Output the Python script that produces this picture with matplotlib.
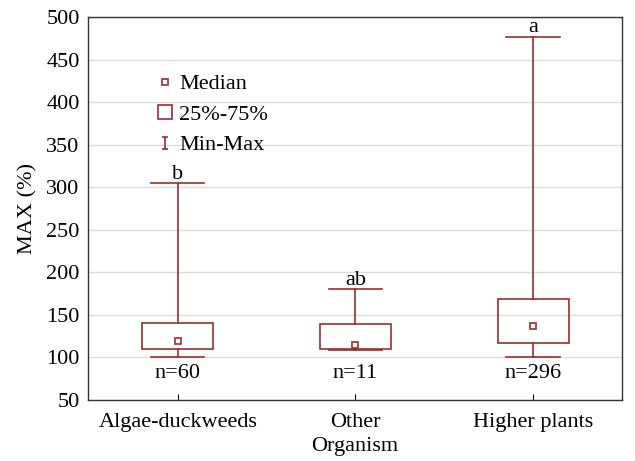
import matplotlib
matplotlib.use("Agg")
import matplotlib.pyplot as plt
from matplotlib.lines import Line2D
from matplotlib.patches import Rectangle
from matplotlib.path import Path

categories = ["Algae-duckweeds", "Other", "Higher plants"]
mins = [101, 109, 101]
q1 = [110, 110, 117]
medians = [119, 115, 137]
q3 = [141, 139, 169]
maxs = [305, 180, 477]
letters = ["b", "ab", "a"]
ns = ["n=60", "n=11", "n=296"]
yticks = [50, 100, 150, 200, 250, 300, 350, 400, 450, 500]

plt.rcParams['font.family'] = ['Liberation Serif', 'DejaVu Serif']
col = '#9b2d2d'

fig = plt.figure(figsize=(6.35, 4.61), dpi=100)
ax = fig.add_axes([88/635, 1-400/461, 534/635, 383/461])

w = 0.40
cap = 0.30
for i in range(len(categories)):
    ax.add_patch(Rectangle((i - w/2, q1[i]), w, q3[i]-q1[i], fill=False, ec=col, lw=1.2, zorder=3))
    ax.plot([i, i], [q3[i], maxs[i]], color=col, lw=1.2, zorder=3)
    ax.plot([i, i], [mins[i], q1[i]], color=col, lw=1.2, zorder=3)
    ax.plot([i - cap/2, i + cap/2], [maxs[i], maxs[i]], color=col, lw=1.2, zorder=3)
    ax.plot([i - cap/2, i + cap/2], [mins[i], mins[i]], color=col, lw=1.2, zorder=3)
    ax.plot([i], [medians[i]], marker='s', ms=5, mfc='white', mec=col, mew=1.2, ls='', zorder=4)
    ax.text(i, maxs[i] - 1, letters[i], ha='center', va='bottom', fontsize=16)
    ax.text(i, 81, ns[i], ha='center', va='center', fontsize=16)

ax.set_xlim(-0.505, 2.5)
ax.set_ylim(50, 500)
ax.set_yticks(yticks)
ax.set_xticks(range(len(categories)))
ax.set_xticklabels(categories, fontsize=16)
ax.tick_params(axis='y', labelsize=16, length=0, pad=6)
ax.tick_params(axis='x', direction='in', length=4, pad=9)
ax.yaxis.grid(True, color='#dcdcdc', lw=1)
ax.set_axisbelow(True)
for s in ax.spines.values():
    s.set_color('#333333')
    s.set_linewidth(1.0)
ax.set_xlabel("Organism", fontsize=16, labelpad=4)
ax.set_ylabel("MAX (%)", fontsize=16, labelpad=6)

ibar = Path([(-0.45, 1), (0.45, 1), (0, 1), (0, -1), (-0.45, -1), (0.45, -1)],
            [Path.MOVETO, Path.LINETO, Path.MOVETO, Path.LINETO, Path.MOVETO, Path.LINETO])
handles = [
    Line2D([], [], marker='s', ms=5, mfc='white', mec=col, mew=1.2, ls=''),
    Line2D([], [], marker='s', ms=10, mfc='white', mec=col, mew=1.2, ls=''),
    Line2D([], [], marker=ibar, ms=9, mew=1.2, color=col, ls=''),
]
ax.legend(handles, ["Median", "25%-75%", "Min-Max"], loc='upper left',
          bbox_to_anchor=(0.115, 0.875), frameon=False, fontsize=16,
          handlelength=0.6, handletextpad=0.35, labelspacing=0.45, borderaxespad=0)

fig.savefig("out.png", dpi=100)
